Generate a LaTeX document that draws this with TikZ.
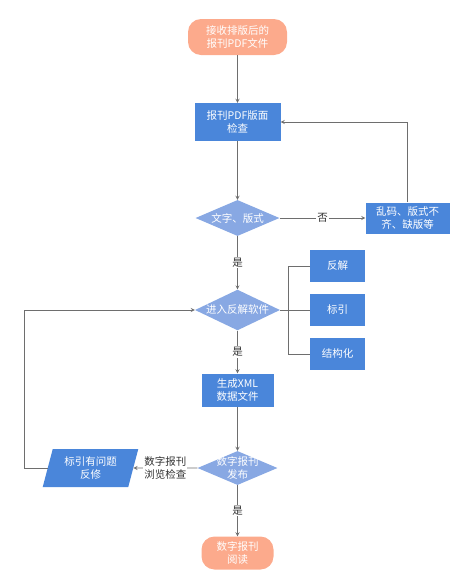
\documentclass[tikz,border=0pt]{standalone}
\usepackage{fontspec}
\setmainfont{Noto Sans CJK SC}
\usetikzlibrary{shapes.geometric, arrows}

\definecolor{salmon}{HTML}{FCAA8C}
\definecolor{boxblue}{HTML}{4A86DA}
\definecolor{diablue}{HTML}{88A8E3}
\definecolor{linegray}{HTML}{6E6E6E}
\definecolor{textgray}{HTML}{333333}

\begin{document}
\begin{tikzpicture}[node distance=85pt, font=\fontsize{10.5}{13}\selectfont]

	\tikzstyle{startstop} = [rectangle, rounded corners=13pt, minimum width=99pt, minimum height=36pt, align=center, fill=salmon, text=white]
	\tikzstyle{process} = [rectangle, minimum width=86pt, minimum height=38pt, align=center, fill=boxblue, text=white]
	\tikzstyle{decision} = [diamond, minimum width=84pt, minimum height=36pt, inner xsep=-12pt, inner ysep=-4pt, align=center, fill=diablue, text=white]
	\tikzstyle{io} = [trapezium, trapezium left angle=75, trapezium right angle=105, trapezium stretches=true, minimum width=96pt, minimum height=38pt, align=center, fill=boxblue, text=white]
	\tikzstyle{arrow} = [thick,->,>=stealth, draw=linegray]
	\tikzstyle{line} = [thick, draw=linegray]
	\tikzstyle{answer} = [fill=white, text=textgray, inner sep=1pt, align=center]

	\useasboundingbox (0,0) rectangle (472pt,-579pt);

	% Nodes
	\node (receive) [startstop] at (237.5pt,-37pt) {接收排版后的\\报刊PDF文件};
	\node (check) [process, below of=receive] {报刊PDF版面\\检查};
	\node (decision1) [decision, below of=check, yshift=-11pt] {文字、版式};
	\node (garbled) [process, right of=decision1, xshift=85pt, minimum width=84pt, minimum height=31pt] {乱码、版式不\\齐、缺版等};
	\node (decision2) [decision, below of=decision1, yshift=-7pt, minimum width=85pt, minimum height=37pt] {进入反解软件};
	\node (index) [process, right of=decision2, xshift=15pt, minimum width=55pt, minimum height=32pt] {标引};
	\node (reverse) [process, above of=index, yshift=-41pt, minimum width=55pt, minimum height=32pt] {反解};
	\node (structure) [process, below of=index, yshift=41pt, minimum width=55pt, minimum height=32pt] {结构化};
	\node (xml) [process, below of=decision2, yshift=5pt, minimum width=72pt, minimum height=33pt] {生成XML\\数据文件};
	\node (decision3) [decision, below of=xml, yshift=7pt, minimum width=80pt, minimum height=34pt] {数字报刊\\发布};
	\node (repair) [io, left of=decision3, xshift=-62pt] {标引有问题\\反修};
	\node (read) [startstop, below of=decision3, minimum width=72pt, minimum height=33pt] {数字报刊\\阅读};

	% Arrows
	\draw [arrow] (receive) -- (check);
	\draw [arrow] (check) -- (decision1);
	\draw [arrow] (decision1) -- node[answer] {否} (garbled);
	\draw [arrow] (garbled.north) |- (check.east);
	\draw [arrow] (decision1) -- node[answer] {是} (decision2);
	\draw [line] (decision2.east) -- (index.west);
	\draw [line] (decision2.east) -- ++(8pt,0) |- (reverse.west);
	\draw [line] (decision2.east) -- ++(8pt,0) |- (structure.west);
	\draw [arrow] (decision2) -- node[answer] {是} (xml);
	\draw [arrow] (xml) -- (decision3);
	\draw [arrow] (decision3) -- node[answer] {数字报刊\\浏览检查} (repair);
	\draw [arrow] (repair.west) -- ++(-23pt,0) |- (decision2.west);
	\draw [arrow] (decision3) -- node[answer] {是} (read);

\end{tikzpicture}
\end{document}
